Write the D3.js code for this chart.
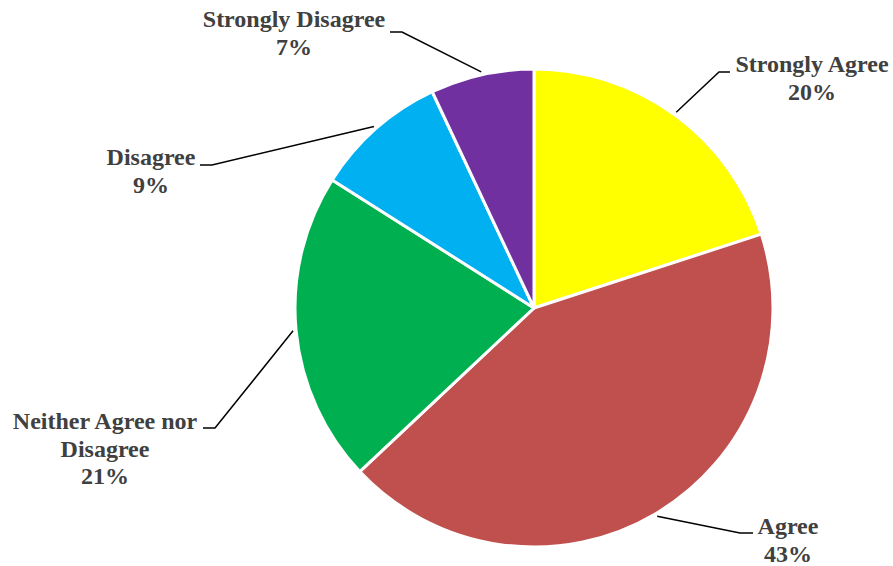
<!DOCTYPE html>
<html><head><meta charset="utf-8"><script src="https://cdn.jsdelivr.net/npm/d3@7"></script></head>
<body style="margin:0">
<svg id="s" width="893" height="566"></svg>
<script>
// ---- data ----
const categories = ["Strongly Agree", "Agree", "Neither Agree nor Disagree", "Disagree", "Strongly Disagree"];
const values = [20, 43, 21, 9, 7];
const colors = ["#FFFF00", "#C0504D", "#00B050", "#00B0F0", "#7030A0"];

// ---- label layout (positions only) ----
const labelLines = [["Strongly Agree"], ["Agree"], ["Neither Agree nor", "Disagree"], ["Disagree"], ["Strongly Disagree"]];
const labelX = [812, 788, 105, 151, 294];
const labelY = [72, 534, 429, 165, 27];
const elbow = [[719, 72], [740, 533], [215, 428], [212, 165], [402, 32]];
const lineEndX = [730, 753, 203, 200, 390];

const cx = 534, cy = 308, radius = 239;
const lineHeight = 27.5;

const svg = d3.select("#s");
const g = svg.append("g").attr("transform", `translate(${cx},${cy})`);

const pie = d3.pie().sort(null).value(d => d.value);
const data = categories.map((c, i) => ({ category: c, value: values[i], i }));
const arcs = pie(data);

const arc = d3.arc().innerRadius(0).outerRadius(radius);
const outerArc = d3.arc().innerRadius(radius + 3).outerRadius(radius + 3);

g.selectAll("path")
  .data(arcs)
  .join("path")
  .attr("d", arc)
  .attr("fill", d => colors[d.data.i])
  .attr("stroke", "#fff")
  .attr("stroke-width", 3)
  .attr("stroke-linejoin", "round");

g.selectAll("polyline")
  .data(arcs)
  .join("polyline")
  .attr("fill", "none")
  .attr("stroke", "#000")
  .attr("stroke-width", 1.5)
  .attr("points", d => {
    const i = d.data.i;
    const [sx, sy] = outerArc.centroid(d);
    const ex = elbow[i][0] - cx, ey = elbow[i][1] - cy;
    const fx = lineEndX[i] - cx;
    return [[sx, sy], [ex, ey], [fx, ey]].map(p => p.join(",")).join(" ");
  });

arcs.forEach(d => {
  const i = d.data.i;
  const lines = labelLines[i].concat([Math.round(d.data.value) + "%"]);
  lines.forEach((t, k) => {
    svg.append("text")
      .attr("x", labelX[i])
      .attr("y", labelY[i] + k * lineHeight)
      .attr("text-anchor", "middle")
      .attr("fill", "#404040")
      .style("font-family", "Times New Roman")
      .style("font-weight", "bold")
      .style("font-size", "24px")
      .text(t);
  });
});
</script></body></html>
